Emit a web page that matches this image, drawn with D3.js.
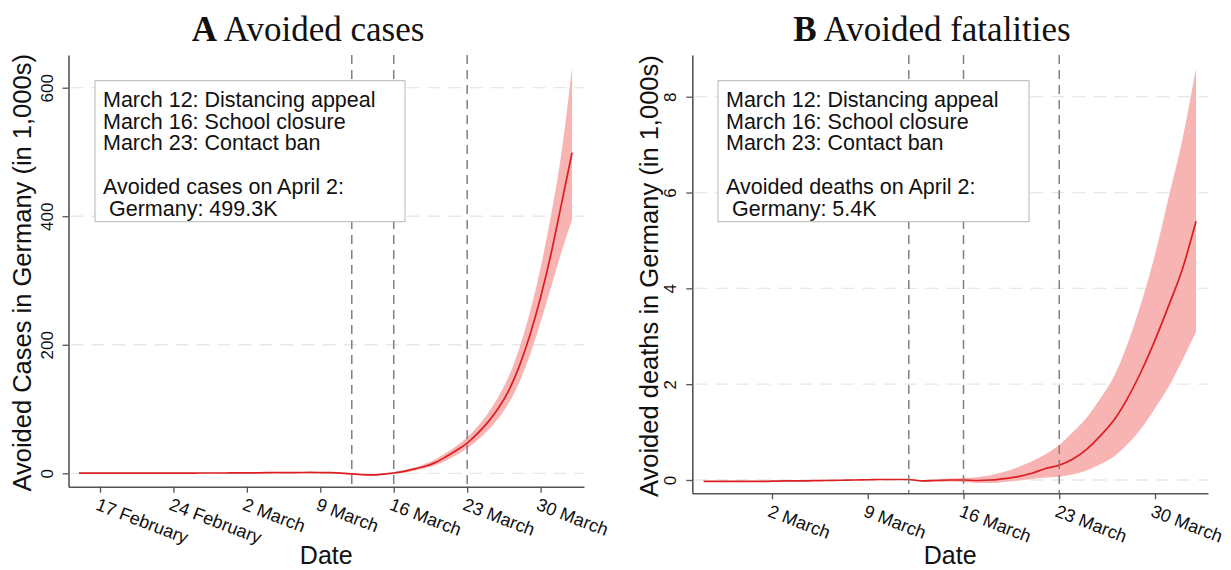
<!DOCTYPE html>
<html>
<head>
<meta charset="utf-8">
<script src="https://cdn.jsdelivr.net/npm/d3@7"></script>
<style>
  body { margin: 0; background: #fff; }
  svg { display: block; font-family: "Liberation Sans", Arial, sans-serif; }
</style>
</head>
<body>
<svg width="1231" height="570"></svg>
<script>
// daily series, in 1,000s
var casesStart = "2020-02-15";
var cases = [0.2, 0.2, 0.2, 0.2, 0.3, 0.3, 0.3, 0.3, 0.3, 0.4, 0.4, 0.4, 0.5, 0.5, 0.5,
  0.6, 0.7, 0.8, 0.9, 1.0, 1.1, 1.2, 1.3, 1.2, 1.0, 0.3,
  -1.0, -2.2, -2.5, -1.2,
  0.5, 3, 7, 11, 17, 26, 36, 47, 62, 80, 102, 130, 168, 216, 274, 342,
  420, 499];
var casesBandStart = "2020-03-12";
var casesLow = [-1.5, -3, -3.5, -2.5, -1, 1, 4, 8, 13, 20, 29, 39, 52, 67, 86, 110, 143, 185, 235, 290, 345, 395];
var casesHigh = [-0.5, -1.5, -1.5, 0, 2, 5, 9, 15, 22, 32, 43, 56, 73, 94, 120, 152, 196, 252, 320, 402, 500, 632];

var deathsStart = "2020-02-26";
var deaths = [-0.03, -0.03, -0.03, -0.03,
  -0.03, -0.025, -0.02, -0.02, -0.015, -0.01, -0.005, 0, 0.005, 0.01, 0.01,
  0.01, -0.02, -0.01, 0,
  0, -0.01, 0, 0.03, 0.07, 0.14, 0.24, 0.31, 0.44, 0.64, 0.92, 1.25, 1.71, 2.27, 2.92, 3.64,
  4.4, 5.4];
var deathsBandStart = "2020-03-12";
var deathsLow = [0, -0.03, -0.03, -0.03, -0.04, -0.06, -0.06, -0.04, -0.01, 0.02, 0.05, 0.07, 0.12, 0.2, 0.33, 0.49, 0.75, 1.08, 1.5, 1.95, 2.5, 3.1];
var deathsHigh = [0.02, 0, 0.01, 0.03, 0.04, 0.06, 0.1, 0.17, 0.27, 0.39, 0.54, 0.73, 1.0, 1.3, 1.7, 2.16, 2.85, 3.7, 4.7, 5.9, 7.1, 8.6];

var interventions = ["2020-03-12", "2020-03-16", "2020-03-23"];

var ticksA = ["2020-02-17", "2020-02-24", "2020-03-02", "2020-03-09", "2020-03-16", "2020-03-23", "2020-03-30"];
var tickLabelsA = ["17 February", "24 February", "2 March", "9 March", "16 March", "23 March", "30 March"];
var ticksB = ["2020-03-02", "2020-03-09", "2020-03-16", "2020-03-23", "2020-03-30"];
var tickLabelsB = ["2 March", "9 March", "16 March", "23 March", "30 March"];
var yTicksA = [0, 200, 400, 600];
var yTicksB = [0, 2, 4, 6, 8];

var notesA = ["March 12: Distancing appeal", "March 16: School closure", "March 23: Contact ban", "",
  "Avoided cases on April 2:", "\u00a0Germany: 499.3K"];
var notesB = ["March 12: Distancing appeal", "March 16: School closure", "March 23: Contact ban", "",
  "Avoided deaths on April 2:", "\u00a0Germany: 5.4K"];

var svg = d3.select("svg");
var parse = d3.utcParse("%Y-%m-%d");

function series(start, vals) {
  var s = parse(start);
  return vals.map(function (v, i) { return { date: d3.utcDay.offset(s, i), v: v }; });
}
function band(start, lo, hi) {
  var s = parse(start);
  return lo.map(function (v, i) { return { date: d3.utcDay.offset(s, i), lo: v, hi: hi[i] }; });
}

function panel(o) {
  // anchor scales on two known ticks, then stretch to axis extents
  var x = d3.scaleUtc().domain(o.xAnchor.map(parse)).range(o.xAnchorPx);
  x.domain([x.invert(o.left), x.invert(o.right)]).range([o.left, o.right]);
  var y = d3.scaleLinear().domain(o.yAnchor).range(o.yAnchorPx);
  y.domain([y.invert(o.bottom), y.invert(o.top)]).range([o.bottom, o.top]);

  var g = svg.append("g");

  // title
  var t = g.append("text")
    .attr("x", o.titleX).attr("y", 41)
    .attr("text-anchor", "middle")
    .style("font-family", "'Liberation Serif', 'Times New Roman', serif")
    .style("font-size", "35px")
    .attr("fill", "#111");
  t.append("tspan").style("font-weight", "bold").text(o.letter);
  t.append("tspan").text(" " + o.title);

  // grid
  g.selectAll(".grid").data(o.yTicks).enter().append("line")
    .attr("x1", o.left + 2).attr("x2", o.right)
    .attr("y1", function (d) { return y(d); })
    .attr("y2", function (d) { return y(d); })
    .attr("stroke", "#e8e8e8").attr("stroke-width", 1.3)
    .attr("stroke-dasharray", "13,8");

  // confidence band and line
  var area = d3.area().curve(d3.curveMonotoneX)
    .x(function (d) { return x(d.date); })
    .y0(function (d) { return y(d.lo); })
    .y1(function (d) { return y(d.hi); });
  g.append("path").datum(o.band)
    .attr("d", area).attr("fill", "#f8b3b3");

  var line = d3.line().curve(d3.curveMonotoneX)
    .x(function (d) { return x(d.date); })
    .y(function (d) { return y(d.v); });
  g.append("path").datum(o.data)
    .attr("d", line).attr("fill", "none")
    .attr("stroke", "#dc1e22").attr("stroke-width", 1.7);

  // intervention dates
  g.selectAll(".vline").data(interventions).enter().append("line")
    .attr("x1", function (d) { return x(parse(d)); })
    .attr("x2", function (d) { return x(parse(d)); })
    .attr("y1", o.top).attr("y2", o.bottom)
    .attr("stroke", "#808080").attr("stroke-width", 1.5)
    .attr("stroke-dasharray", "9,6");

  // axes
  var xAxis = d3.axisBottom(x)
    .tickValues(o.xTicks.map(parse))
    .tickFormat(function (d, i) { return o.xLabels[i]; })
    .tickSize(6).tickSizeOuter(0);
  var gx = g.append("g")
    .attr("transform", "translate(0," + o.bottom + ")")
    .call(xAxis);
  gx.selectAll("text")
    .attr("y", 0)
    .attr("text-anchor", "start")
    .attr("transform", "translate(-1,10) rotate(21)")
    .attr("dy", "0.75em")
    .style("font-size", "18px").attr("fill", "#111");

  var yAxis = d3.axisLeft(y).tickValues(o.yTicks).tickSize(6).tickSizeOuter(0);
  var gy = g.append("g")
    .attr("transform", "translate(" + o.left + ",0)")
    .call(yAxis);
  gy.selectAll("text")
    .attr("x", 0).attr("dy", 0)
    .attr("text-anchor", "middle")
    .attr("transform", "translate(-16,0) rotate(-90)")
    .style("font-size", "17px").attr("fill", "#111");

  [gx, gy].forEach(function (a) {
    a.select(".domain").attr("stroke", "#555").attr("stroke-width", 1.6);
    a.selectAll(".tick line").attr("stroke", "#555").attr("stroke-width", 1.3);
  });

  // axis titles
  g.append("text")
    .attr("transform", "translate(" + o.yTitleX + "," + ((o.top + o.bottom) / 2 + 2) + ") rotate(-90)")
    .attr("text-anchor", "middle")
    .style("font-size", "25.5px").attr("fill", "#111")
    .text(o.yTitle);
  g.append("text")
    .attr("x", (o.left + o.right) / 2).attr("y", 564)
    .attr("text-anchor", "middle")
    .style("font-size", "25px").attr("fill", "#111")
    .text("Date");

  // note box
  g.append("rect")
    .attr("x", o.box[0]).attr("y", o.box[1])
    .attr("width", o.box[2]).attr("height", o.box[3])
    .attr("fill", "#fff").attr("stroke", "#b5b5b5").attr("stroke-width", 1);
  g.selectAll(".note").data(o.notes).enter().append("text")
    .attr("x", o.box[0] + 8)
    .attr("y", function (d, i) { return o.box[1] + 26 + i * 21.8; })
    .style("font-size", "21.5px").attr("fill", "#111")
    .text(function (d) { return d; });
}

panel({
  letter: "A", title: "Avoided cases", titleX: 308,
  left: 68.5, right: 584, top: 55, bottom: 486.7,
  xAnchor: ["2020-02-17", "2020-03-30"], xAnchorPx: [100, 540.6],
  yAnchor: [0, 600], yAnchorPx: [473.3, 87.7],
  xTicks: ticksA, xLabels: tickLabelsA, yTicks: yTicksA,
  data: series(casesStart, cases),
  band: band(casesBandStart, casesLow, casesHigh),
  yTitle: "Avoided Cases in Germany (in 1,000s)", yTitleX: 31,
  box: [95, 80.7, 310, 141], notes: notesA
});

panel({
  letter: "B", title: "Avoided fatalities", titleX: 932,
  left: 692.3, right: 1208, top: 55, bottom: 493.3,
  xAnchor: ["2020-03-02", "2020-03-30"], xAnchorPx: [772, 1155],
  yAnchor: [0, 8], yAnchorPx: [480, 96.7],
  xTicks: ticksB, xLabels: tickLabelsB, yTicks: yTicksB,
  data: series(deathsStart, deaths),
  band: band(deathsBandStart, deathsLow, deathsHigh),
  yTitle: "Avoided deaths in Germany (in 1,000s)", yTitleX: 658,
  box: [718, 80.7, 311, 141], notes: notesB
});
</script>
</body>
</html>
